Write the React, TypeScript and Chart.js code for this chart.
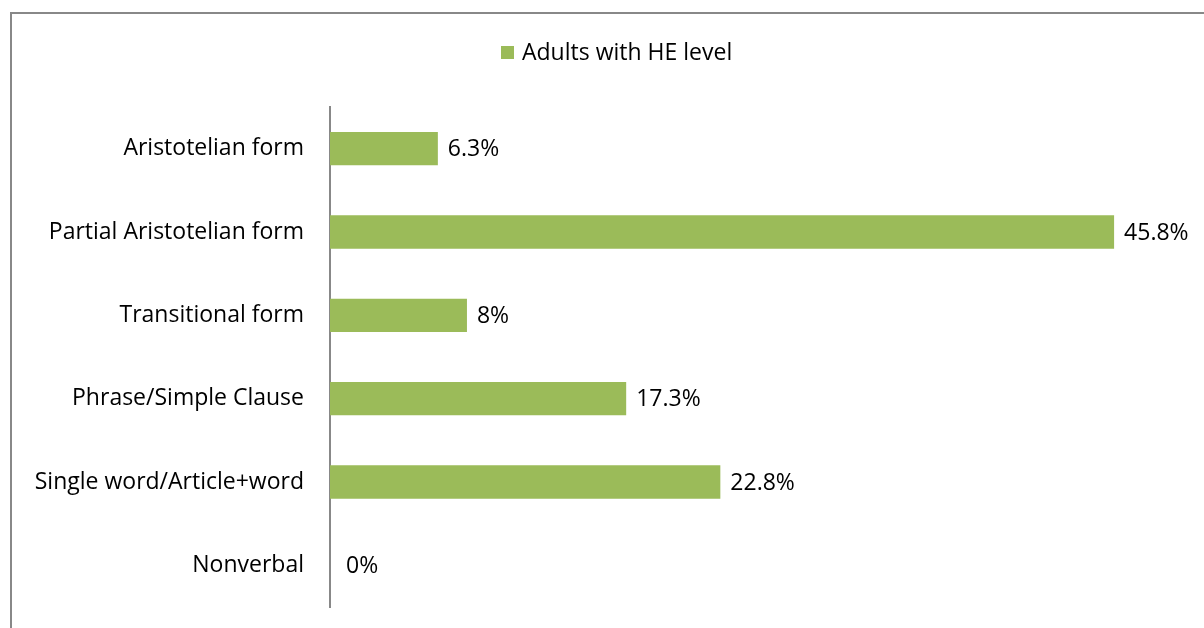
import React, { useEffect, useRef } from "react";
import { Chart, registerables } from "chart.js";

Chart.register(...registerables);

const categories = [
  "Aristotelian form",
  "Partial Aristotelian form",
  "Transitional form",
  "Phrase/Simple Clause",
  "Single word/Article+word",
  "Nonverbal",
];
const seriesName = "Adults with HE level";
const values = [6.3, 45.8, 8, 17.3, 22.8, 0];
const valueLabels = ["6.3%", "45.8%", "8%", "17.3%", "22.8%", "0%"];

const FONT = "'Open Sans', sans-serif";
const FONT_SIZE = 23;
const BAR_COLOR = "#9BBB59";

export default function App() {
  const ref = useRef<HTMLCanvasElement | null>(null);
  useEffect(() => {
    const canvas = ref.current!;
    const framePlugin = {
      id: "frame",
      beforeDraw(chart: any) {
        const ctx = chart.ctx;
        ctx.save();
        ctx.fillStyle = "#ffffff";
        ctx.fillRect(0, 0, chart.width, chart.height);
        ctx.strokeStyle = "#888888";
        ctx.lineWidth = 2;
        ctx.beginPath();
        ctx.moveTo(11, chart.height + 5);
        ctx.lineTo(11, 13);
        ctx.lineTo(chart.width + 5, 13);
        ctx.stroke();
        // legend
        const label = chart.data.datasets[0].label;
        ctx.font = `${FONT_SIZE}px ${FONT}`;
        ctx.textBaseline = "middle";
        ctx.textAlign = "left";
        ctx.fillStyle = BAR_COLOR;
        ctx.fillRect(501, 46, 13, 13);
        ctx.fillStyle = "#000000";
        ctx.fillText(label, 522, 53);
        ctx.restore();
      },
    };
    const labelPlugin = {
      id: "valueLabels",
      afterDatasetsDraw(chart: any) {
        const ctx = chart.ctx;
        const meta = chart.getDatasetMeta(0);
        ctx.save();
        ctx.font = `${FONT_SIZE}px ${FONT}`;
        ctx.fillStyle = "#000000";
        ctx.textBaseline = "middle";
        ctx.textAlign = "left";
        meta.data.forEach((el: any, i: number) => {
          const off = values[i] === 0 ? 16 : 10;
          ctx.fillText(valueLabels[i], el.x + off, el.y + 1);
        });
        ctx.restore();
      },
    };
    const chart = new Chart(canvas, {
      type: "bar",
      data: {
        labels: categories,
        datasets: [
          {
            label: seriesName,
            data: values,
            backgroundColor: BAR_COLOR,
            borderWidth: 0,
            barPercentage: 1,
            categoryPercentage: 0.4,
          },
        ],
      },
      options: {
        indexAxis: "y",
        animation: false,
        responsive: false,
        layout: { padding: { left: 0, right: 18, top: 107, bottom: 21 } },
        plugins: {
          legend: { display: false },
          tooltip: { enabled: false },
        },
        scales: {
          x: {
            display: false,
            min: 0,
            max: 50,
            grid: { display: false },
          },
          y: {
            grid: { display: false, drawTicks: false },
            border: { display: true, color: "#888888", width: 2 },
            ticks: {
              padding: 26,
              color: "#000000",
              font: { family: FONT, size: FONT_SIZE },
            },
            afterFit: (s: any) => {
              s.width = 330;
              s.paddingTop = 0;
              s.paddingBottom = 0;
            },
          },
        },
      },
      plugins: [framePlugin, labelPlugin],
    });
    return () => chart.destroy();
  }, []);
  return (
    <div style={{ position: "absolute", left: 0, top: 0, width: 1204, height: 628 }}>
      <canvas ref={ref} width={1204} height={628} style={{ display: "block" }} />
    </div>
  );
}
